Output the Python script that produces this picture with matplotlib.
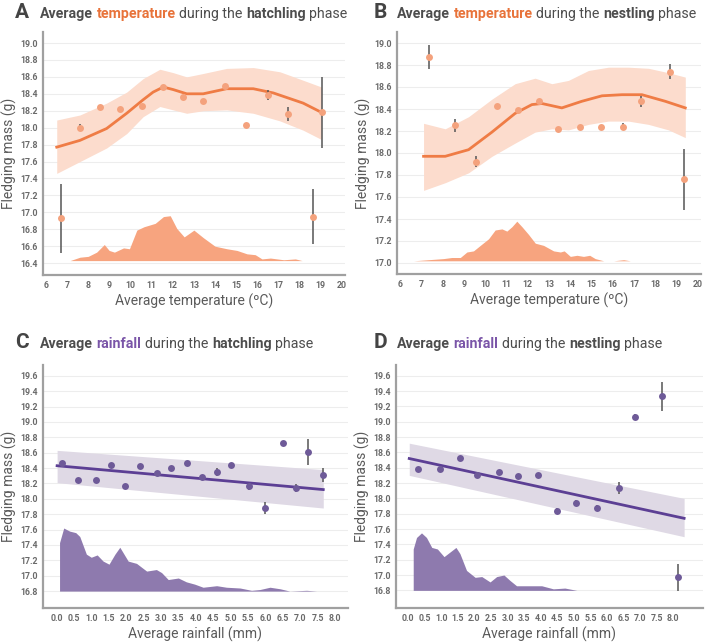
import matplotlib
matplotlib.use('Agg')
import matplotlib.pyplot as plt
from matplotlib import font_manager

# ---------------- panel A : temperature, hatchling phase ----------------
a_x = [6.71, 7.61, 8.55, 9.50, 10.53, 11.52, 12.50, 13.44, 14.47, 15.45, 16.52, 17.46, 18.64, 19.04]
a_y = [16.93, 18.00, 18.24, 18.22, 18.255, 18.48, 18.36, 18.32, 18.49, 18.03, 18.39, 18.16, 16.95, 18.18]
a_err = [0.41, 0.04, 0.01, 0.01, 0.02, 0.01, 0.01, 0.01, 0.01, 0.03, 0.06, 0.08, 0.32, 0.42]

a_fit_x = [6.51, 7.61, 8.87, 9.82, 10.6, 11.07, 11.55, 12.02, 12.66, 13.44, 14.55, 15.81, 16.76, 18.17, 19.04]
a_fit = [17.77, 17.85, 17.99, 18.17, 18.33, 18.42, 18.48, 18.45, 18.40, 18.40, 18.46, 18.46, 18.41, 18.29, 18.18]
a_band_x = [6.51, 7.61, 8.87, 9.82, 10.6, 11.39, 12.02, 12.66, 13.44, 14.55, 15.81, 17.07, 18.17, 19.04]
a_hi = [18.09, 18.15, 18.29, 18.42, 18.58, 18.69, 18.65, 18.60, 18.64, 18.70, 18.71, 18.66, 18.56, 18.48]
a_lo = [17.46, 17.60, 17.76, 17.93, 18.13, 18.25, 18.21, 18.17, 18.20, 18.21, 18.17, 18.08, 17.97, 17.86]

a_kde_x = [6.65, 7.14, 7.61, 8.0, 8.4, 8.76, 8.99, 9.24, 9.67, 9.95, 10.3, 10.64, 11.17, 11.56, 11.88,
           12.19, 12.54, 13.0, 13.45, 14.0, 14.56, 15.04, 15.51, 15.9, 16.22, 16.62, 17.25, 17.8, 18.12, 19.17]
a_kde = [16.43, 16.43, 16.47, 16.48, 16.53, 16.62, 16.55, 16.53, 16.58, 16.57, 16.79, 16.83, 16.87, 16.95, 16.96,
         16.81, 16.71, 16.79, 16.70, 16.60, 16.57, 16.55, 16.51, 16.50, 16.45, 16.46, 16.44, 16.45, 16.43, 16.43]
a_base = 16.43

# ---------------- panel B : temperature, nestling phase ----------------
b_x = [7.37, 8.56, 9.56, 10.55, 11.54, 12.54, 13.45, 14.47, 15.45, 16.51, 17.35, 18.68, 19.34]
b_y = [18.87, 18.25, 17.92, 18.43, 18.39, 18.47, 18.22, 18.24, 18.24, 18.24, 18.47, 18.74, 17.76]
b_err = [0.11, 0.06, 0.05, 0.01, 0.01, 0.01, 0.01, 0.01, 0.01, 0.03, 0.05, 0.07, 0.28]

b_fit_x = [7.10, 8.12, 9.22, 10.32, 11.41, 12.2, 12.67, 13.61, 14.55, 15.50, 16.44, 17.38, 18.48, 19.42]
b_fit = [17.97, 17.97, 18.03, 18.19, 18.36, 18.44, 18.45, 18.41, 18.47, 18.52, 18.53, 18.53, 18.47, 18.41]
b_band_x = [7.10, 8.12, 9.22, 10.32, 11.41, 12.35, 13.14, 13.92, 14.86, 15.80, 16.74, 17.69, 18.63, 19.42]
b_hi = [18.27, 18.22, 18.33, 18.49, 18.63, 18.68, 18.63, 18.66, 18.75, 18.78, 18.78, 18.77, 18.73, 18.69]
b_lo = [17.66, 17.73, 17.82, 17.97, 18.09, 18.19, 18.22, 18.21, 18.26, 18.29, 18.29, 18.26, 18.21, 18.14]

b_kde_x = [6.63, 8.04, 8.43, 8.83, 9.14, 9.45, 9.77, 10.16, 10.47, 10.79, 11.02, 11.26, 11.49, 11.73, 12.04,
           12.36, 12.75, 13.22, 13.54, 13.72, 14.01, 14.32, 14.63, 14.92, 15.18, 15.58, 16.05, 16.52, 16.83, 19.34]
b_kde = [17.02, 17.04, 17.05, 17.05, 17.10, 17.11, 17.16, 17.22, 17.30, 17.31, 17.29, 17.33, 17.38, 17.33, 17.26,
         17.18, 17.16, 17.11, 17.10, 17.11, 17.06, 17.07, 17.06, 17.07, 17.04, 17.02, 17.02, 17.03, 17.02, 17.02]
b_base = 17.02

# ---------------- panel C : rainfall, hatchling phase ----------------
c_x = [0.17, 0.63, 1.13, 1.58, 1.96, 2.41, 2.90, 3.28, 3.74, 4.18, 4.61, 5.02, 5.53, 5.98, 6.49, 6.88, 7.22, 7.66]
c_y = [18.46, 18.24, 18.24, 18.44, 18.17, 18.43, 18.34, 18.40, 18.47, 18.28, 18.35, 18.44, 18.16, 17.88, 18.72, 18.14, 18.61, 18.31]
c_err = [0.01, 0.01, 0.01, 0.01, 0.01, 0.01, 0.01, 0.01, 0.01, 0.03, 0.05, 0.03, 0.04, 0.08, 0.03, 0.05, 0.17, 0.09]

c_fit_x = [0.02, 7.66]
c_fit = [18.43, 18.12]
c_hi = [18.63, 18.38]
c_lo = [18.21, 17.88]

c_kde_x = [0.09, 0.09, 0.21, 0.38, 0.555, 0.67, 0.86, 1.0, 1.17, 1.34, 1.51, 1.68, 1.82, 2.06, 2.3, 2.59, 2.87,
           3.02, 3.21, 3.5, 3.73, 3.97, 4.21, 4.6, 4.88, 5.27, 5.6, 5.84, 6.13, 6.42, 6.70, 7.18, 7.47, 7.81]
c_kde = [16.80, 17.43, 17.62, 17.58, 17.56, 17.51, 17.28, 17.24, 17.27, 17.19, 17.15, 17.28, 17.37, 17.19, 17.16, 17.06, 17.08,
         17.04, 16.95, 16.97, 16.92, 16.89, 16.85, 16.87, 16.85, 16.84, 16.81, 16.82, 16.85, 16.83, 16.80, 16.81, 16.80, 16.80]
c_base = 16.80

# ---------------- panel D : rainfall, nestling phase ----------------
d_x = [0.30, 0.96, 1.56, 2.09, 2.73, 3.30, 3.92, 4.48, 5.07, 5.70, 6.36, 6.84, 7.65, 8.16]
d_y = [18.38, 18.38, 18.53, 18.30, 18.34, 18.29, 18.31, 17.84, 17.94, 17.88, 18.14, 19.06, 19.33, 16.97]
d_err = [0.01, 0.01, 0.01, 0.01, 0.01, 0.01, 0.01, 0.03, 0.04, 0.04, 0.08, 0.04, 0.19, 0.18]

d_fit_x = [0.03, 8.33]
d_fit = [18.52, 17.74]
d_hi = [18.72, 18.00]
d_lo = [18.30, 17.50]

d_kde_x = [0.15, 0.15, 0.25, 0.40, 0.55, 0.71, 0.88, 1.08, 1.26, 1.44, 1.56, 1.76, 2.02, 2.22, 2.47, 2.67, 2.89,
           3.07, 3.27, 3.68, 4.03, 4.38, 4.73, 5.09, 8.06]
d_kde = [16.80, 17.34, 17.49, 17.55, 17.49, 17.36, 17.34, 17.24, 17.30, 17.36, 17.28, 17.06, 16.97, 16.98, 16.91, 16.98, 17.0,
         16.93, 16.86, 16.86, 16.86, 16.82, 16.83, 16.80, 16.80]
d_base = 16.80

temp_ticks = list(range(6, 21))
temp_yticks = [16.4 + 0.2 * i for i in range(14)]
temp_yticks_b = [17.0 + 0.2 * i for i in range(11)]
rain_ticks = [0.5 * i for i in range(17)]
rain_yticks = [16.8 + 0.2 * i for i in range(15)]

ORANGE_PT = '#f4a27d'
ORANGE_LINE = '#ef7c45'
ORANGE_BAND = '#fcdccd'
ORANGE_KDE = '#f7a47f'
ORANGE_TXT = '#e8733a'
PURPLE_PT = '#6e5a98'
PURPLE_LINE = '#5c3f94'
PURPLE_BAND = '#dfd9e5'
PURPLE_KDE = '#8e7aae'
PURPLE_TXT = '#7a55a8'
GREY_TXT = '#4d4d4d'

installed = {f.name for f in font_manager.fontManager.ttflist}
FONT = 'Roboto' if 'Roboto' in installed else 'DejaVu Sans'
plt.rcParams['font.family'] = [FONT, 'DejaVu Sans']

W, H = 709, 643
fig = plt.figure(figsize=(W / 100, H / 100), dpi=100)


def make_ax(l, r, t, b):
    return fig.add_axes([l / W, 1 - b / H, (r - l) / W, (b - t) / H])


def style(ax, xlim, ylim, xticks, yticks, xlabel, fmt):
    ax.set_xlim(xlim)
    ax.set_ylim(ylim)
    ax.set_xticks(xticks)
    ax.set_xticklabels([fmt % v for v in xticks])
    ax.set_yticks(yticks)
    ax.set_yticklabels(['%.1f' % v for v in yticks])
    for s in ['top', 'right']:
        ax.spines[s].set_visible(False)
    for s in ['left', 'bottom']:
        ax.spines[s].set_color('#a0a0a0')
        ax.spines[s].set_linewidth(1.6)
    ax.grid(axis='y', color='#ededed', lw=0.8)
    ax.set_axisbelow(True)
    ax.tick_params(length=0, labelsize=6.3, labelcolor='#6a6a6a', pad=4)
    for lab in ax.get_xticklabels() + ax.get_yticklabels():
        lab.set_fontweight('bold')
    ax.set_xlabel(xlabel, fontsize=10, color='#5a5a5a')
    ax.xaxis.set_label_coords(0.5, -0.108)
    ax.xaxis.label.set_verticalalignment('center')
    ax.set_ylabel('Fledging mass (g)', fontsize=10, color='#5a5a5a')
    ax.yaxis.set_label_coords(-0.11, 0.5)
    ax.yaxis.label.set_verticalalignment('center')


def draw(ax, x, y, err, fx, fit, bx, lo, hi, kx, kde, base, pcol, lcol, bcol, kcol):
    ax.fill_between(bx, lo, hi, color=bcol, lw=0, zorder=1)
    ax.plot(fx, fit, color=lcol, lw=2, zorder=2)
    ax.fill_between(kx, base, kde, color=kcol, lw=0, zorder=2)
    ax.errorbar(x, y, yerr=err, fmt='none', ecolor='#555555', elinewidth=1.1, zorder=3)
    ax.plot(x, y, 'o', ms=5, color=pcol, mec='none', zorder=4)


def title(x0, letter_x, y0, letter, word, wcol, phase):
    r = fig.canvas.get_renderer()
    fig.text(letter_x / W, 1 - y0 / H, letter, fontsize=15, fontweight='bold', color='#444444', va='baseline')
    size = 10.2
    space = 0.25 * size * 100 / 72
    parts = [('Average', 'bold', GREY_TXT), (word, 'bold', wcol), ('during the', 'normal', GREY_TXT),
             (phase, 'bold', GREY_TXT), ('phase', 'normal', GREY_TXT)]
    x = x0
    for text, weight, col in parts:
        t = fig.text(x / W, 1 - y0 / H, text, fontsize=size, fontweight=weight, color=col, va='baseline')
        x += t.get_window_extent(r).width + space


axA = make_ax(43, 345, 32, 275)
draw(axA, a_x, a_y, a_err, a_fit_x, a_fit, a_band_x, a_lo, a_hi, a_kde_x, a_kde, a_base,
     ORANGE_PT, ORANGE_LINE, ORANGE_BAND, ORANGE_KDE)
style(axA, (5.86, 20.15), (16.26, 19.13), temp_ticks, temp_yticks, 'Average temperature (ºC)', '%d')

axB = make_ax(397, 701, 32, 274)
draw(axB, b_x, b_y, b_err, b_fit_x, b_fit, b_band_x, b_lo, b_hi, b_kde_x, b_kde, b_base,
     ORANGE_PT, ORANGE_LINE, ORANGE_BAND, ORANGE_KDE)
style(axB, (5.85, 20.16), (16.90, 19.10), temp_ticks, temp_yticks_b, 'Average temperature (ºC)', '%d')

axC = make_ax(43, 348, 365, 608)
draw(axC, c_x, c_y, c_err, c_fit_x, c_fit, c_fit_x, c_lo, c_hi, c_kde_x, c_kde, c_base,
     PURPLE_PT, PURPLE_LINE, PURPLE_BAND, PURPLE_KDE)
style(axC, (-0.385, 8.37), (16.58, 19.74), rain_ticks, rain_yticks, 'Average rainfall (mm)', '%.1f')

axD = make_ax(396, 703, 365, 608)
draw(axD, d_x, d_y, d_err, d_fit_x, d_fit, d_fit_x, d_lo, d_hi, d_kde_x, d_kde, d_base,
     PURPLE_PT, PURPLE_LINE, PURPLE_BAND, PURPLE_KDE)
style(axD, (-0.37, 8.9), (16.57, 19.74), rain_ticks, rain_yticks, 'Average rainfall (mm)', '%.1f')

for lx, tx, ty, letter, word, col, phase in [(15, 40, 18, 'A', 'temperature', ORANGE_TXT, 'hatchling'),
                                             (374, 397, 18, 'B', 'temperature', ORANGE_TXT, 'nestling'),
                                             (15, 40, 348, 'C', 'rainfall', PURPLE_TXT, 'hatchling'),
                                             (374, 397, 348, 'D', 'rainfall', PURPLE_TXT, 'nestling')]:
    title(tx, lx, ty, letter, word, col, phase)

fig.savefig('out.png', dpi=100)
